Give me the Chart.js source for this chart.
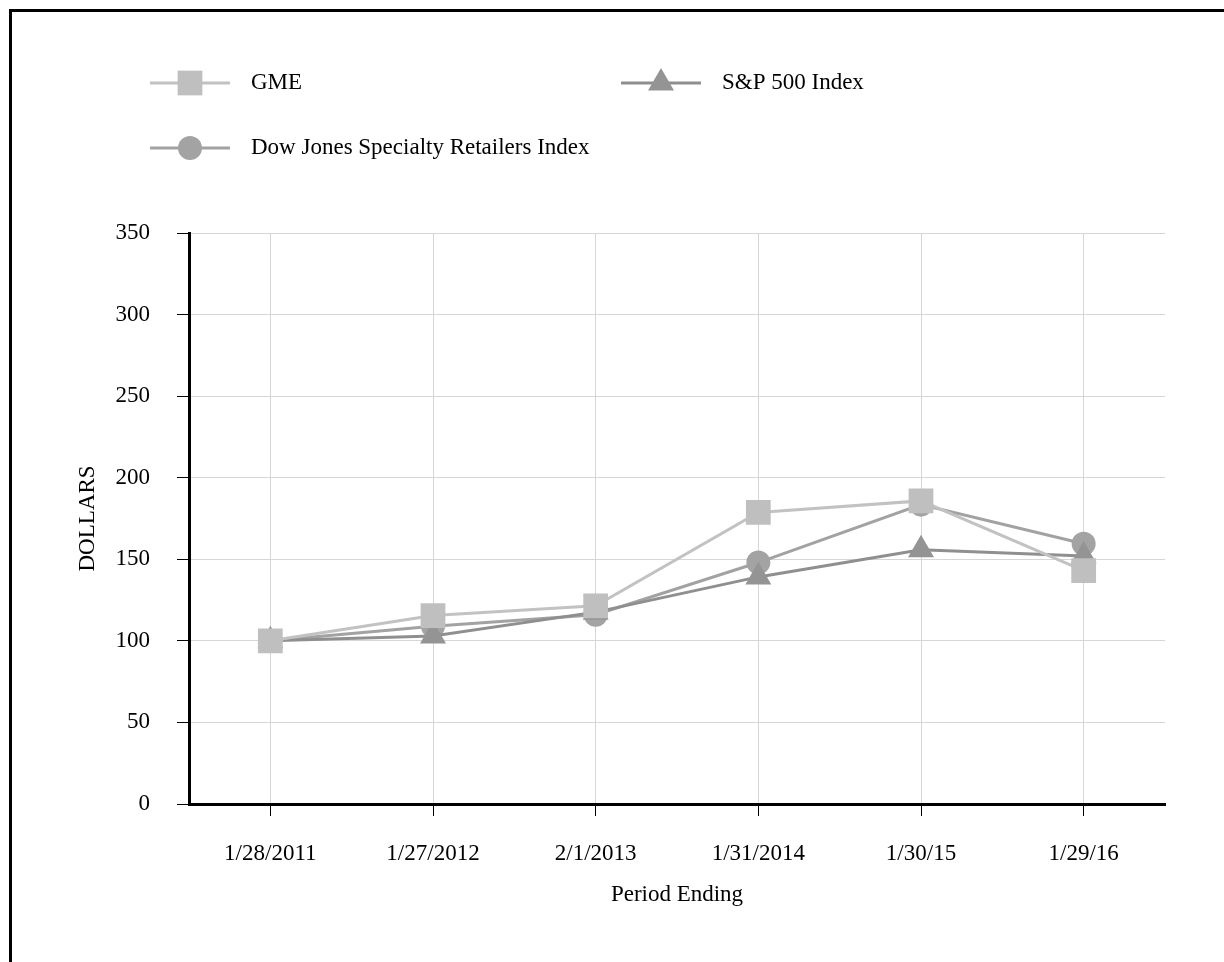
<!DOCTYPE html>
<html>
<head>
<meta charset="utf-8">
<script src="https://cdn.jsdelivr.net/npm/chart.js@4/dist/chart.umd.min.js"></script>
<style>
  html, body { margin: 0; padding: 0; background: #fff; }
  #wrap { width: 1224px; height: 962px; position: relative; }
</style>
</head>
<body>
<div id="wrap"><canvas id="c" width="1224" height="962"></canvas></div>
<script>
const categories = ['1/28/2011', '1/27/2012', '2/1/2013', '1/31/2014', '1/30/15', '1/29/16'];
const gmeValues = [100, 115.5, 121.5, 178.7, 185.8, 143];
const sp500Values = [100, 103, 117.6, 139.2, 155.8, 152];
const djsrValues = [100, 109, 116, 148, 183.5, 159.5];
const seriesNames = ['GME', 'S&P 500 Index', 'Dow Jones Specialty Retailers Index'];
const yTicks = [0, 50, 100, 150, 200, 250, 300, 350];
const xTitle = 'Period Ending';
const yTitle = 'DOLLARS';

const FONT = '"Liberation Serif", "Times New Roman", serif';

const framePlugin = {
  id: 'frame',
  beforeDraw(chart) {
    const ctx = chart.ctx;
    ctx.save();
    ctx.fillStyle = '#fff';
    ctx.fillRect(0, 0, chart.width, chart.height);
    ctx.strokeStyle = '#000';
    ctx.lineWidth = 3;
    ctx.beginPath();
    ctx.moveTo(10.5, chart.height + 5);
    ctx.lineTo(10.5, 10.5);
    ctx.lineTo(chart.width + 5, 10.5);
    ctx.stroke();
    ctx.restore();
  }
};

const legendPlugin = {
  id: 'customLegend',
  afterDraw(chart) {
    const ctx = chart.ctx;
    const slots = [ {x: 190, y: 83}, {x: 661, y: 83}, {x: 190, y: 148} ];
    chart.data.datasets.forEach((ds, i) => {
      const s = slots[i];
      ctx.save();
      ctx.strokeStyle = ds.borderColor;
      ctx.lineWidth = ds.borderWidth;
      ctx.beginPath();
      ctx.moveTo(s.x - 40, s.y);
      ctx.lineTo(s.x + 40, s.y);
      ctx.stroke();
      ctx.fillStyle = ds.pointBackgroundColor;
      ctx.strokeStyle = ds.pointBackgroundColor;
      Chart.helpers.drawPoint(ctx, {
        pointStyle: ds.pointStyle,
        radius: ds.pointRadius,
        borderWidth: 0,
        rotation: 0
      }, s.x, s.y);
      ctx.fillStyle = '#000';
      ctx.font = '23px ' + FONT;
      ctx.textBaseline = 'middle';
      ctx.textAlign = 'left';
      ctx.fillText(ds.label, s.x + 61, s.y);
      ctx.restore();
    });
  }
};

new Chart(document.getElementById('c'), {
  type: 'line',
  data: {
    labels: categories,
    datasets: [
      {
        label: seriesNames[0], data: gmeValues,
        borderColor: '#c2c2c2', borderWidth: 3,
        pointStyle: 'rect', pointRadius: 17.5,
        pointBackgroundColor: '#bfbfbf', pointBorderColor: '#bfbfbf', pointBorderWidth: 0,
        tension: 0
      },
      {
        label: seriesNames[1], data: sp500Values,
        borderColor: '#8f8f8f', borderWidth: 3,
        pointStyle: 'triangle', pointRadius: 15,
        pointBackgroundColor: '#949494', pointBorderColor: '#949494', pointBorderWidth: 0,
        tension: 0
      },
      {
        label: seriesNames[2], data: djsrValues,
        borderColor: '#a2a2a2', borderWidth: 3,
        pointStyle: 'circle', pointRadius: 12,
        pointBackgroundColor: '#a3a3a3', pointBorderColor: '#a3a3a3', pointBorderWidth: 0,
        tension: 0
      }
    ]
  },
  options: {
    responsive: false,
    animation: false,
    devicePixelRatio: 1,
    layout: { padding: { left: 60, right: 59, top: 233, bottom: 48 } },
    plugins: {
      legend: { display: false },
      tooltip: { enabled: false },
      title: { display: false }
    },
    scales: {
      x: {
        type: 'category',
        offset: true,
        grid: {
          display: true, offset: false,
          color: '#d6d6d6', lineWidth: 1,
          drawTicks: true, tickLength: 12, tickColor: '#000', tickWidth: 1
        },
        border: { display: true, color: '#000', width: 3 },
        ticks: { color: '#000', font: { family: FONT, size: 23 }, padding: 24, maxRotation: 0, autoSkip: false },
        title: { display: true, text: xTitle, color: '#000', font: { family: FONT, size: 23 }, padding: { top: 0, bottom: 5 } },
        afterFit(scale) { scale.height = 110; }
      },
      y: {
        min: 0, max: 350,
        afterBuildTicks(scale) { scale.ticks = yTicks.map(v => ({ value: v })); },
        grid: {
          color: '#d6d6d6', lineWidth: 1,
          drawTicks: true, tickLength: 12, tickColor: '#000', tickWidth: 1
        },
        border: { display: true, color: '#000', width: 3 },
        ticks: { color: '#000', font: { family: FONT, size: 23 }, padding: 27 },
        title: { display: true, text: yTitle, color: '#000', font: { family: FONT, size: 23 }, padding: { top: 14, bottom: 0 } },
        afterFit(scale) { scale.width = 129; }
      }
    }
  },
  plugins: [framePlugin, legendPlugin]
});
</script>
</body>
</html>
